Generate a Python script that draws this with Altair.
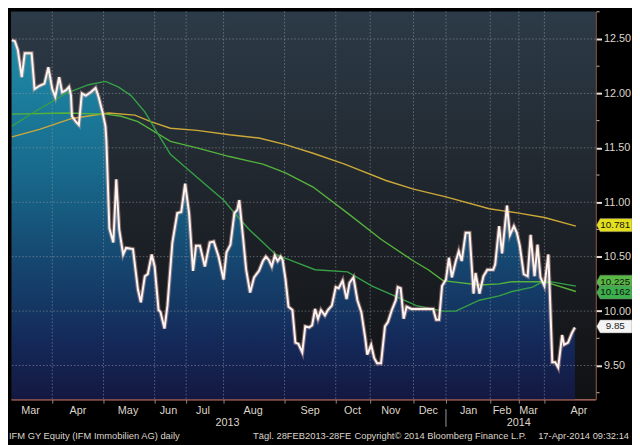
import altair as alt
import pandas as pd

# ---------------- data ----------------
# t = session position along the time axis, v = price (EUR)
price_t = [1,4,7,11,14,21,24,29,34,38,
           42,45,49,52,56,59,61,62,66,69,
           72,76,81,86,89,93,96,97,100,104,
           107,110,114,117,124,129,132,136,139,143,
           146,150,152,156,159,164,169,173,177,181,
           185,188,192,197,202,206,211,216,219,223,
           227,230,232,236,239,243,247,252,256,259,
           262,265,268,271,274,276,279,282,286,289,
           292,296,299,303,306,309,312,315,319,322,
           326,330,333,337,341,344,348,352,356,360,
           362,366,369,372,376,380,383,387,391,393,
           396,399,402,407,419,429,432,435,438,442,
           445,448,452,455,458,462,466,470,472,476,
           480,484,490,492,496,499,504,507,511,514,
           517,521,525,528,532,535,538,542,546,548,
           550,553,556,560,562,566,570,573]
price_v = [12.49,12.48,12.40,12.15,12.37,12.37,12.04,12.07,12.09,12.24,
           12.04,11.97,12.15,12.01,12.03,12.06,11.98,11.79,11.74,11.71,
           12.00,11.98,12.01,12.05,11.97,11.83,11.70,11.56,10.76,10.63,
           11.21,10.75,10.52,10.58,10.57,10.20,10.08,10.32,10.34,10.52,
           10.41,10.01,9.99,9.84,10.05,10.63,10.90,10.91,11.17,10.90,
           10.37,10.60,10.60,10.41,10.63,10.64,10.50,10.29,10.54,10.61,
           10.90,10.93,11.02,10.66,10.38,10.17,10.31,10.37,10.46,10.50,
           10.47,10.41,10.51,10.46,10.50,10.47,10.29,10.04,10.01,9.71,
           9.70,9.62,9.86,9.85,9.87,10.02,9.93,10.01,9.96,10.01,
           10.05,10.22,10.21,10.28,10.11,10.26,10.31,10.10,9.99,9.75,
           9.60,9.69,9.57,9.52,9.52,9.86,9.90,10.01,10.10,10.22,
           10.21,9.93,10.04,10.02,10.02,10.02,9.92,9.92,10.23,10.29,
           10.49,10.31,10.46,10.55,10.46,10.72,10.72,10.16,10.35,10.16,
           10.32,10.38,10.38,10.43,10.78,10.53,10.97,10.70,10.78,10.72,
           10.60,10.34,10.32,10.70,10.32,10.61,10.31,10.23,10.52,10.05,
           9.53,9.53,9.48,9.78,9.69,9.71,9.80,9.85]

ma_yellow_t = [1,29,62,99,126,142,162,189,222,252,279,307,339,381,409,442,486,516,542,574]
ma_yellow_v = [11.60,11.67,11.77,11.82,11.80,11.74,11.68,11.66,11.62,11.59,11.53,11.45,11.35,11.20,11.12,11.05,10.94,10.90,10.86,10.78]

ma_fast_t = [1,22,56,79,96,109,122,136,152,162,189,216,229,242,269,289,309,342,367,392,412,439,452,476,496,509,530,542,574]
ma_fast_v = [11.70,11.82,12.00,12.08,12.11,12.06,11.98,11.83,11.59,11.44,11.23,11.02,10.88,10.75,10.52,10.45,10.38,10.36,10.23,10.13,10.05,10.00,10.00,10.10,10.14,10.18,10.22,10.28,10.23]

ma_slow_t = [1,56,96,112,129,162,189,222,256,279,307,342,376,409,424,439,476,496,509,542,574]
ma_slow_v = [11.81,11.82,11.81,11.79,11.74,11.56,11.50,11.42,11.35,11.27,11.14,10.90,10.66,10.46,10.38,10.28,10.24,10.25,10.27,10.27,10.18]

month_labels = ["Mar","Apr","May","Jun","Jul","Aug","Sep","Oct","Nov","Dec","Jan","Feb","Mar","Apr"]
month_label_t = [20,68,119,160,195,246,304,347,386,424,465,499,526,577]
month_start_t = [42,94,146,178,216,278,330,365,409,442,487,516,542]
year_labels = ["2013","2014"]
year_label_t = [220,516]
year_break_t = [442]

y_ticks = [9.5,10.0,10.5,11.0,11.5,12.0,12.5]
y_minor = [9.25,9.75,10.25,10.75,11.25,11.75,12.25,12.75]

# last-value tags on the right axis
tag_labels = ["10.225","10.781","10.162","9.85"]
tag_values = [10.225,10.781,10.162,9.85]
tag_fill = ["#58b944","#e4e01e","#3daf4c","#f4f4f4"]
tag_text = ["#111111","#111111","#111111","#222222"]

footer_left = "IFM GY Equity (IFM Immobilien AG) daily"
footer_mid1 = "Tägl. 28FEB2013-28FE"
footer_mid2 = "Copyright© 2014 Bloomberg Finance L.P."
footer_right = "17-Apr-2014 09:32:14"

T_MIN, T_MAX = 0, 594
Y_MIN, Y_MAX = 9.19, 12.753

# ---------------- chart ----------------
W, H = 594, 394
FONT = "Liberation Sans, Arial, sans-serif"
TXT = "#ddd5ca"

xs = alt.Scale(domain=[T_MIN, T_MAX], nice=False, zero=False)
ys = alt.Scale(domain=[Y_MIN, Y_MAX], nice=False, zero=False)
xaxis = alt.Axis(values=month_start_t, labels=False, tickSize=4, tickColor="#8a8a8a",
                 domainColor="#c9786a", domainWidth=1.5, grid=False, title=None)
yaxis = alt.Axis(orient="right", values=y_ticks, format=".2f", labelColor=TXT,
                 labelFont=FONT, labelFontSize=11, tickColor="#e8e2da", tickSize=6,
                 tickWidth=2, domainColor="#8c5a48", domainWidth=1.5, labelPadding=2,
                 grid=False, title=None)
X = alt.X("t:Q", scale=xs, axis=xaxis)
Y = alt.Y("v:Q", scale=ys, axis=yaxis)

df_price = pd.DataFrame({"t": price_t, "v": price_v})
df_yel = pd.DataFrame({"t": ma_yellow_t, "v": ma_yellow_v})
df_fast = pd.DataFrame({"t": ma_fast_t, "v": ma_fast_v})
df_slow = pd.DataFrame({"t": ma_slow_t, "v": ma_slow_v})
df_gx = pd.DataFrame({"t": month_start_t})
df_gy = pd.DataFrame({"v": y_ticks})
df_minor = pd.DataFrame({"v": y_minor})
df_months = pd.DataFrame({"t": month_label_t, "label": month_labels})
df_years = pd.DataFrame({"t": year_label_t, "label": year_labels})
df_ybreak = pd.DataFrame({"t": year_break_t})
df_tags = pd.DataFrame({"v": tag_values, "label": tag_labels,
                        "fill": tag_fill, "tc": tag_text})
df_tag_up = df_tags.iloc[:1]
df_tag_main = df_tags.iloc[1:]
one = pd.DataFrame({"k": [0]})

bg = alt.Chart(one).mark_rect(
    fill=alt.Gradient(gradient="linear", x1=0, x2=0, y1=0, y2=1,
                      stops=[alt.GradientStop(offset=0, color="#2c3b48"),
                             alt.GradientStop(offset=0.45, color="#20262d"),
                             alt.GradientStop(offset=1, color="#101113")])
).encode(x=alt.value(0), x2=alt.value(W), y=alt.value(0), y2=alt.value(H))

area = alt.Chart(df_price).mark_area(
    fill=alt.Gradient(gradient="linear", x1=0, x2=0, y1=0, y2=1,
                      stops=[alt.GradientStop(offset=0, color="#1e8aa6"),
                             alt.GradientStop(offset=0.35, color="#186c8e"),
                             alt.GradientStop(offset=0.62, color="#15466f"),
                             alt.GradientStop(offset=0.85, color="#142858"),
                             alt.GradientStop(offset=1, color="#141840")])
).encode(x=X, y=Y, y2=alt.datum(Y_MIN))

grid_style = dict(color="#9aa0a8", strokeDash=[1.5, 2], strokeWidth=1, opacity=0.55)
gx = alt.Chart(df_gx).mark_rule(**grid_style).encode(x=X)
gy = alt.Chart(df_gy).mark_rule(**grid_style).encode(y=Y)

yel = alt.Chart(df_yel).mark_line(color="#cba838", strokeWidth=1.4).encode(x=X, y=Y)
slow = alt.Chart(df_slow).mark_line(color="#55b33c", strokeWidth=1.4).encode(x=X, y=Y)
fast = alt.Chart(df_fast).mark_line(color="#36a046", strokeWidth=1.4).encode(x=X, y=Y)

glow = alt.Chart(df_price).mark_line(color="#e6a8a4", strokeWidth=4.2, opacity=0.45).encode(x=X, y=Y)
line = alt.Chart(df_price).mark_line(color="#fcf4ef", strokeWidth=2.0).encode(x=X, y=Y)

minor = alt.Chart(df_minor).mark_rule(color="#c8b8b0", strokeWidth=1).encode(
    x=alt.value(W + 1), x2=alt.value(W + 4), y=Y)

BOX = "M-1,0 L-0.8,-0.37 L1,-0.37 L1,0.37 L-0.8,0.37 Z"


def tag_layers(df, dy):
    b = alt.Chart(df).mark_point(shape=BOX, size=1296, filled=True, opacity=1,
                                 stroke="#777777", strokeWidth=0.5, yOffset=dy).encode(
        x=alt.value(W + 19), y=Y, fill=alt.Fill("fill:N", scale=None))
    t = alt.Chart(df).mark_text(font=FONT, fontSize=10, baseline="middle",
                                align="center", yOffset=dy).encode(
        x=alt.value(W + 20), y=Y, text="label:N", color=alt.Color("tc:N", scale=None))
    return [b, t]


months = alt.Chart(df_months).mark_text(font=FONT, fontSize=11, color=TXT,
                                        baseline="middle").encode(
    x=X, y=alt.value(H + 12), text="label:N")
years = alt.Chart(df_years).mark_text(font=FONT, fontSize=11, color=TXT,
                                      baseline="middle").encode(
    x=X, y=alt.value(H + 24), text="label:N")
ybreak = alt.Chart(df_ybreak).mark_rule(color="#9a9a9a", strokeWidth=1).encode(
    x=X, y=alt.value(H + 10), y2=alt.value(H + 28))


def foot(txt, xpos, align):
    return alt.Chart(one).mark_text(font=FONT, fontSize=9.5, color=TXT, align=align,
                                    baseline="middle", text=txt).encode(
        x=alt.value(xpos), y=alt.value(H + 37))


chart = alt.layer(
    bg, area, gx, gy, yel, slow, fast, glow, line, minor,
    *tag_layers(df_tag_up, -5), *tag_layers(df_tag_main, -1),
    months, years, ybreak,
    foot(footer_left, -2, "left"),
    foot(footer_mid1, 246, "left"),
    foot(footer_mid2, 349, "left"),
    foot(footer_right, 628, "right"),
).properties(
    width=W, height=H,
    autosize=alt.AutoSizeParams(type="none"),
    padding={"left": 3, "top": 0, "right": 37, "bottom": 45},
    background="#000000",
).configure_view(stroke=None)

chart.save("out.html", embed_options={"renderer": "svg", "actions": False})
